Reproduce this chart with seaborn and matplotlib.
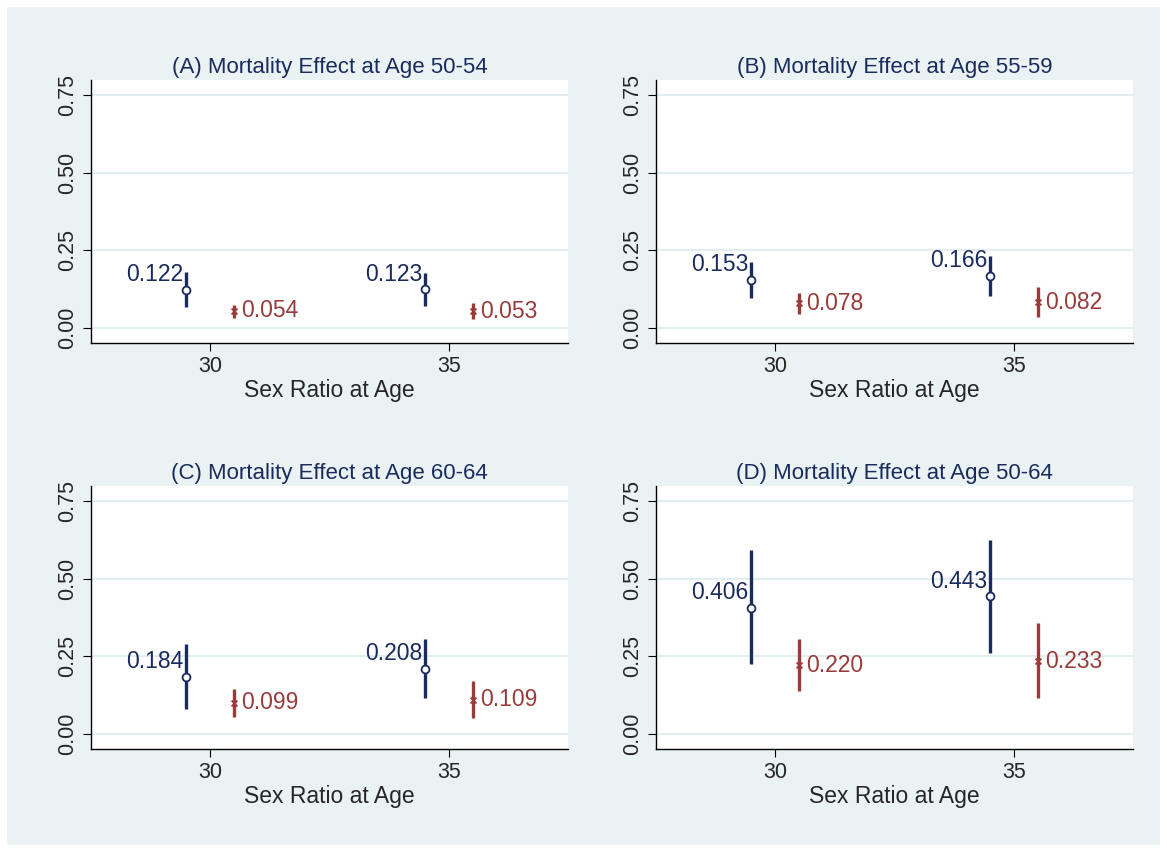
import numpy as np
import matplotlib.pyplot as plt
import seaborn as sns

titles = ['(A) Mortality Effect at Age 50-54', '(B) Mortality Effect at Age 55-59',
          '(C) Mortality Effect at Age 60-64', '(D) Mortality Effect at Age 50-64']
ages = [30, 35]
blue_est = [[0.122, 0.123], [0.153, 0.166], [0.184, 0.208], [0.406, 0.443]]
blue_lo = [[0.067, 0.070], [0.096, 0.103], [0.080, 0.115], [0.224, 0.260]]
blue_hi = [[0.179, 0.176], [0.212, 0.231], [0.288, 0.304], [0.593, 0.625]]
red_est = [[0.054, 0.053], [0.078, 0.082], [0.099, 0.109], [0.220, 0.233]]
red_lo = [[0.032, 0.026], [0.045, 0.035], [0.054, 0.051], [0.138, 0.115]]
red_hi = [[0.074, 0.080], [0.112, 0.131], [0.144, 0.170], [0.304, 0.356]]

W, H = 1167, 852
navy = '#1a2b5e'
red = '#9b3a3a'
sns.set_style('white')
plt.rcParams['font.family'] = ['Liberation Sans', 'DejaVu Sans']
fig = plt.figure(figsize=(W / 100, H / 100), dpi=100, facecolor='white')
# light blue background inside a thin white border
bg = fig.add_axes([7 / W, 7 / H, 1 - 14 / W, 1 - 14 / H])
bg.set_facecolor('#eaf2f3')
bg.set_xticks([])
bg.set_yticks([])
for s in bg.spines.values():
    s.set_visible(False)

boxes = [(91, 80), (656, 80), (91, 486), (656, 486)]

for i, (x0, y0) in enumerate(boxes):
    ax = fig.add_axes([x0 / W, 1 - (y0 + 263) / H, 477 / W, 263 / H])
    ax.set_facecolor('white')
    xb = np.array(ages) - 0.5
    xr = np.array(ages) + 0.5
    ax.vlines(xb, blue_lo[i], blue_hi[i], color=navy, lw=2.4, zorder=2)
    ax.vlines(xr, red_lo[i], red_hi[i], color=red, lw=2.4, zorder=2)
    sns.scatterplot(x=xb, y=blue_est[i], ax=ax, marker='o', s=32, facecolor='white',
                    edgecolor=navy, linewidth=1.3, zorder=3)
    sns.scatterplot(x=xr, y=red_est[i], ax=ax, marker='x', s=18, color=red,
                    linewidth=1.3, zorder=3)
    for xx, v in zip(xb, blue_est[i]):
        ax.text(xx - 0.06, v + 0.012, f'{v:.3f}', color=navy, fontsize=16.5, ha='right', va='bottom')
    for xx, v in zip(xr, red_est[i]):
        ax.text(xx + 0.15, v, f'{v:.3f}', color=red, fontsize=16.5, ha='left', va='center')
    ax.set_xlim(27.5, 37.5)
    ax.set_ylim(-0.05, 0.8)
    ax.set_xticks(ages)
    ax.set_yticks([0, 0.25, 0.5, 0.75])
    ax.set_yticklabels(['0.00', '0.25', '0.50', '0.75'], rotation=90, va='center')
    ax.yaxis.grid(True, color='#e4eef0', lw=1.5)
    ax.set_axisbelow(True)
    ax.tick_params(axis='both', labelsize=15.5, length=6, color='black', direction='out',
                   left=True, bottom=True)
    for s in ['top', 'right']:
        ax.spines[s].set_visible(False)
    for s in ['left', 'bottom']:
        ax.spines[s].set_color('black')
        ax.spines[s].set_linewidth(1.0)
    ax.set_title(titles[i], color=navy, fontsize=16, pad=5)
    ax.set_xlabel('Sex Ratio at Age', fontsize=16.5, labelpad=1)

fig.savefig('out.png', dpi=100, facecolor=fig.get_facecolor())
